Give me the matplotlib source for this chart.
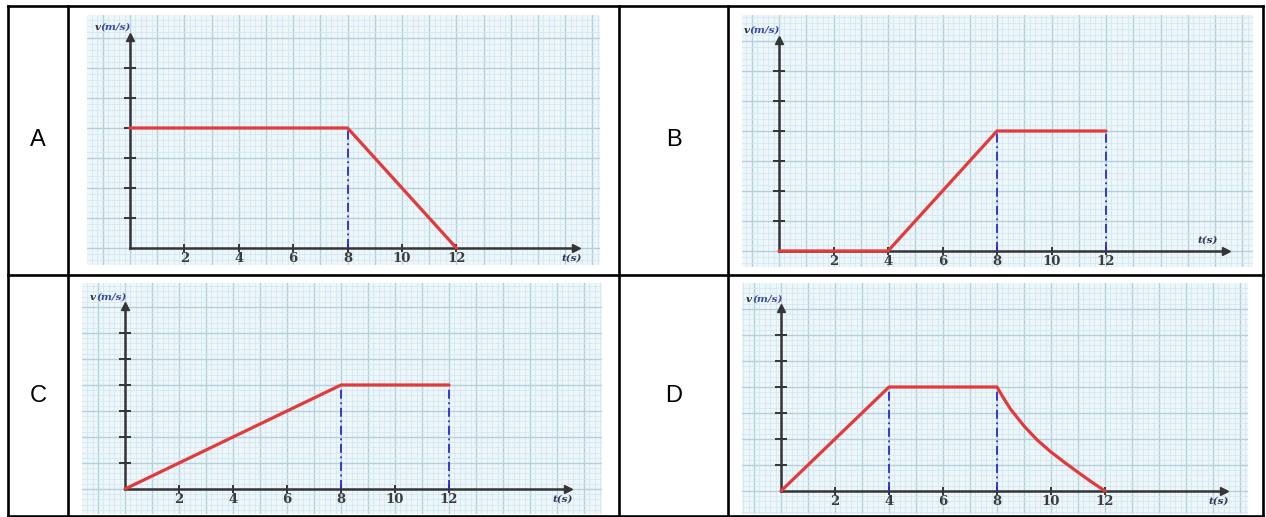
import numpy as np
import matplotlib
matplotlib.use("Agg")
import matplotlib.pyplot as plt

W, H = 1266, 517

# ---- velocity-time data for the four options ----
a_t = [0, 8, 12]
a_v = [4, 4, 0]
a_guides = [8]

b_t = [0, 4, 8, 12]
b_v = [0, 0, 4, 4]
b_guides = [8, 12]

c_t = [0, 8, 12]
c_v = [0, 4, 4]
c_guides = [8, 12]

d_t = [0, 4, 8, 8.25, 8.5, 9, 9.5, 10, 10.5, 11, 11.5, 12]
d_v = [0, 4, 4, 3.56, 3.15, 2.5, 1.95, 1.5, 1.1, 0.72, 0.35, 0]
d_guides = [4, 8]

x_ticks = [2, 4, 6, 8, 10, 12]
x_tick_labels = ["2", "4", "6", "8", "10", "12"]
v_ticks = [1, 2, 3, 4, 5, 6]
option_labels = ["A", "B", "C", "D"]

# ---- layout (pixels): plot rect (l, t, r, b), origin, px per unit, label cell centre ----
panels = [
    dict(t=a_t, v=a_v, guides=a_guides, rect=(87, 15, 600, 265), origin=(130, 248),
         scale=(27.2, 30), cell=(38, 140), t_above=False),
    dict(t=b_t, v=b_v, guides=b_guides, rect=(742, 15, 1253, 267), origin=(779, 251),
         scale=(27.25, 30), cell=(674, 140), t_above=True),
    dict(t=c_t, v=c_v, guides=c_guides, rect=(82, 283, 602, 514), origin=(125, 489),
         scale=(27.0, 26), cell=(38, 396), t_above=False),
    dict(t=d_t, v=d_v, guides=d_guides, rect=(742, 283, 1248, 514), origin=(781, 491),
         scale=(27.0, 26), cell=(674, 396), t_above=False),
]

AXIS_C = "#353535"
RED = "#e23a3a"
BLUE = "#2a2ad0"
PAPER = "#edf6fa"
MINOR = "#d4e7ef"
MAJOR = "#b3d0dc"

fig = plt.figure(figsize=(W / 100, H / 100), dpi=100)
fig.patch.set_facecolor("white")

# table frame
frame = fig.add_axes([0, 0, 1, 1])
frame.set_xlim(0, W)
frame.set_ylim(H, 0)
frame.axis("off")
lw_tab = 1.9
for x in [8, 68, 619, 728, 1263]:
    frame.plot([x, x], [6, 516], color="black", lw=lw_tab, solid_capstyle="projecting")
for y in [6, 275, 516]:
    frame.plot([8, 1263], [y, y], color="black", lw=lw_tab, solid_capstyle="projecting")

for lab, p in zip(option_labels, panels):
    cx, cy = p["cell"]
    frame.text(cx, cy, lab, ha="center", va="center", fontsize=17,
               family="Liberation Sans", color="black")

    l, t, r, b = p["rect"]
    ox, oy = p["origin"]
    sx, sy = p["scale"]
    ax = fig.add_axes([l / W, 1 - b / H, (r - l) / W, (b - t) / H])
    x0, x1 = (l - ox) / sx, (r - ox) / sx
    y0, y1 = (oy - b) / sy, (oy - t) / sy
    ax.set_xlim(x0, x1)
    ax.set_ylim(y0, y1)
    ax.set_facecolor(PAPER)

    # graph paper
    step = 0.2
    xs = np.arange(np.ceil(x0 / step) * step, x1, step)
    ys = np.arange(np.ceil(y0 / step) * step, y1, step)
    for xv in xs:
        major = abs(xv - round(xv)) < 1e-6
        ax.axvline(xv, color=MAJOR if major else MINOR, lw=1.0 if major else 0.6, zorder=0)
    for yv in ys:
        major = abs(yv - round(yv)) < 1e-6
        ax.axhline(yv, color=MAJOR if major else MINOR, lw=1.0 if major else 0.6, zorder=0)

    # axes through the origin with arrowheads
    x_tip, v_tip = 16.4, 7.05
    for s in ["top", "right"]:
        ax.spines[s].set_visible(False)
    ax.spines["left"].set_position(("data", 0))
    ax.spines["bottom"].set_position(("data", 0))
    ax.spines["left"].set_bounds(0, v_tip)
    ax.spines["bottom"].set_bounds(0, x_tip)
    for s in ["left", "bottom"]:
        ax.spines[s].set_color(AXIS_C)
        ax.spines[s].set_linewidth(1.8)
    ax.plot([x_tip], [0], marker=">", ms=6, color=AXIS_C, clip_on=False, zorder=3)
    ax.plot([0], [v_tip], marker="^", ms=6, color=AXIS_C, clip_on=False, zorder=3)

    ax.set_xticks(x_ticks, x_tick_labels)
    ax.set_yticks(v_ticks, [])
    ax.tick_params(axis="x", direction="inout", length=6, width=1.4, colors=AXIS_C,
                   labelsize=9.5, pad=0)
    ax.tick_params(axis="y", direction="inout", length=8, width=1.4, colors=AXIS_C)
    for tl in ax.get_xticklabels():
        tl.set_fontfamily("DejaVu Serif")
        tl.set_fontweight("bold")
        tl.set_color("#3c3c3c")

    # motion graph
    ax.plot(p["t"], p["v"], color=RED, lw=2.3, solid_capstyle="round",
            solid_joinstyle="round", zorder=5, clip_on=False)
    for g in p["guides"]:
        vg = float(np.interp(g, p["t"], p["v"]))
        ax.plot([g, g], [0, vg], color=BLUE, lw=1.3, ls=(0, (5, 2, 1, 2)), zorder=4)

    # axis captions
    vt = ax.text(-1.3, v_tip + 0.15, "v", fontsize=7.5, family="DejaVu Serif",
                 style="italic", weight="bold", color="#333333", va="bottom", ha="left")
    ax.annotate("(m/s)", xy=(1, 0), xycoords=vt, va="bottom", ha="left", fontsize=7.5,
                family="DejaVu Serif", style="italic", weight="bold", color="#3b4aa8")
    if p["t_above"]:
        ax.text(x_tip - 0.3, 0.2, "t(s)", fontsize=7.5, family="DejaVu Serif",
                style="italic", weight="bold", color="#333355", va="bottom", ha="right")
    else:
        ax.text(x_tip + 0.2, -0.2, "t(s)", fontsize=7.5, family="DejaVu Serif",
                style="italic", weight="bold", color="#333355", va="top", ha="right")

fig.savefig("out.png", dpi=100, facecolor="white")
